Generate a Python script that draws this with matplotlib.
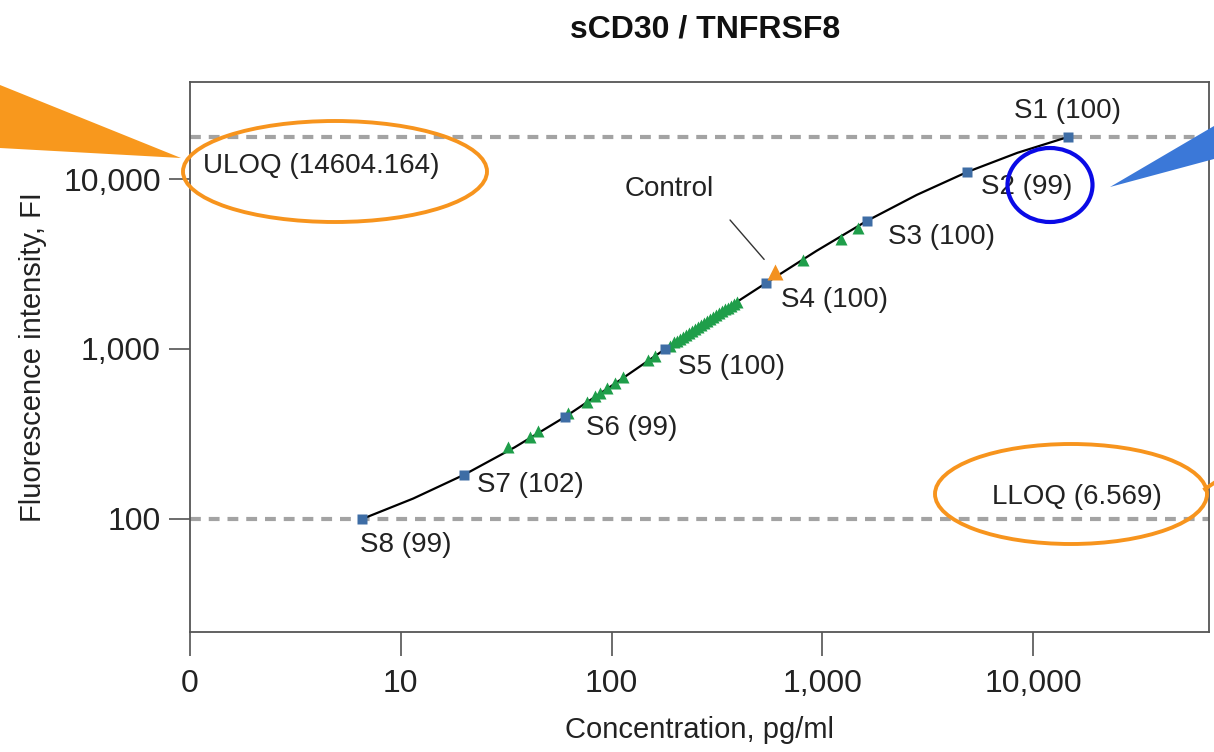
import matplotlib
matplotlib.use("Agg")
import matplotlib.pyplot as plt
from matplotlib.patches import Ellipse, Polygon
from matplotlib.lines import Line2D
from matplotlib.ticker import FixedLocator, FixedFormatter, NullLocator

plt.rcParams['font.family'] = ['Liberation Sans', 'DejaVu Sans']

# standards (S1..S8): concentration pg/ml, fluorescence intensity, recovery %
std_names = ['S1', 'S2', 'S3', 'S4', 'S5', 'S6', 'S7', 'S8']
std_recovery = [100, 99, 100, 100, 100, 99, 102, 99]
std_conc = [14604.164, 4868, 1623, 541, 180, 60.1, 20.0, 6.569]
std_fi = [17660, 11000, 5660, 2444, 1000, 398, 182, 100]

# fitted curve, points
curve_conc = [6.569, 11.46, 20.0, 34.67, 60.1, 104, 180, 312, 541, 937,
              1623, 2811, 4868, 8432, 14604.164]
curve_fi = [100, 131.8, 182, 263.6, 398, 626.6, 1000, 1571, 2444, 3772,
            5660, 8072, 11000, 14270, 17660]

# samples (green triangles)
sample_conc = [32.3, 41.0, 44.8, 62.2, 76.5, 83.5, 88.2, 95.2, 104, 113.5,
               149, 161, 190, 198, 205, 211, 218, 226, 233, 241, 249, 257,
               266, 275, 284, 293, 303, 313, 324, 334, 346, 357, 369, 381,
               394, 811, 1227, 1478]
sample_fi = [265, 303, 329, 420, 488, 529, 551, 590, 631, 684,
             861, 909, 1042, 1092, 1121, 1151, 1181, 1212, 1245, 1278, 1313, 1347,
             1382, 1420, 1457, 1497, 1537, 1576, 1620, 1662, 1708, 1752, 1798, 1848,
             1896, 3338, 4436, 5150]

control_conc = 597
control_fi = 2838

uloq = 14604.164
lloq = 6.569
uloq_fi = 17660
lloq_fi = 100

x_ticks = [1, 10, 100, 1000, 10000]
x_ticklabels = ['0', '10', '100', '1,000', '10,000']
y_ticks = [100, 1000, 10000]
y_ticklabels = ['100', '1,000', '10,000']

# label offsets in pixels (dx, dy) and alignment
label_offsets = [(0, 26, 'center'), (14, -15, 'left'), (21, -16, 'left'),
                 (15, -17, 'left'), (13, -18, 'left'), (21, -11, 'left'),
                 (13, -10, 'left'), (-2, -26, 'left')]

W, H = 1214, 752
fig = plt.figure(figsize=(W / 100, H / 100), dpi=100)
ax = fig.add_axes([190 / W, 1 - 632 / H, (1209 - 190) / W, (632 - 82) / H])

ax.set_xscale('log')
ax.set_yscale('log')
ax.set_xlim(1, 68400)
ax.set_ylim(21.6, 37250)

# ULOQ / LLOQ lines
for yv in [uloq_fi, lloq_fi]:
    ln = ax.axhline(yv, color='#a3a3a3', lw=3, zorder=1)
    ln.set_dashes([2.6, 1.9])

ax.plot(curve_conc, curve_fi, color='black', lw=1.6, zorder=2)
ax.plot(sample_conc, sample_fi, ls='none', marker='^', ms=8.5, color='#1f9e4a',
        mec='none', zorder=3)
ax.plot(std_conc, std_fi, ls='none', marker='s', ms=7.5, color='#3e6da5',
        mec='none', zorder=4)
ax.plot([control_conc], [control_fi], ls='none', marker='^', ms=11,
        color='#f39120', mec='none', zorder=5)

txt_color = '#222222'
for name, rec, xc, yc, (dx, dy, ha) in zip(std_names, std_recovery, std_conc, std_fi, label_offsets):
    ax.annotate(f'{name} ({rec})', xy=(xc, yc), xytext=(dx, dy),
                textcoords='offset pixels', ha=ha, va='center',
                fontsize=20, color=txt_color)

ax.annotate('Control', xy=(control_conc, control_fi), xytext=(-106, 83),
            textcoords='offset pixels', ha='center', va='center',
            fontsize=20, color=txt_color)
ax.annotate('', xy=(control_conc, control_fi), xytext=(-45, 52),
            textcoords='offset pixels',
            arrowprops=dict(arrowstyle='-', color='#333333', lw=1,
                            shrinkA=0, shrinkB=12))

ax.annotate(f'ULOQ ({uloq:.3f})', xy=(0, uloq_fi), xycoords=('axes fraction', 'data'),
            xytext=(13, -29), textcoords='offset pixels', ha='left', va='center',
            fontsize=20, color=txt_color)
ax.annotate(f'LLOQ ({lloq:.3f})', xy=(1, lloq_fi), xycoords=('axes fraction', 'data'),
            xytext=(-217, 22), textcoords='offset pixels', ha='left', va='center',
            fontsize=20, color=txt_color)

ax.xaxis.set_major_locator(FixedLocator(x_ticks))
ax.xaxis.set_major_formatter(FixedFormatter(x_ticklabels))
ax.xaxis.set_minor_locator(NullLocator())
ax.yaxis.set_major_locator(FixedLocator(y_ticks))
ax.yaxis.set_major_formatter(FixedFormatter(y_ticklabels))
ax.yaxis.set_minor_locator(NullLocator())

ax.tick_params(axis='x', direction='out', length=17, width=1.1, color='#444444',
               labelsize=23, labelcolor=txt_color, pad=10)
ax.tick_params(axis='y', direction='out', length=15, width=1.1, color='#444444',
               labelsize=23, labelcolor=txt_color, pad=6)
for sp in ax.spines.values():
    sp.set_color('#555555')
    sp.set_linewidth(1.3)

ax.set_xlabel('Concentration, pg/ml', fontsize=21, color=txt_color, labelpad=12)
ax.set_ylabel('Fluorescence intensity, FI', fontsize=21, color=txt_color, labelpad=12)
fig.text(705 / W, 1 - 30 / H, 'sCD30 / TNFRSF8', ha='center', va='center',
         fontsize=23, fontweight='bold', color='#111111')


# highlight overlays (pixel coords, y from top)
def fp(x, y):
    return (x / W, 1 - y / H)


fig.add_artist(Polygon([fp(0, 85), fp(181, 158), fp(0, 148)], closed=True,
                       fc='#f8981d', ec='none', transform=fig.transFigure))
fig.add_artist(Polygon([fp(1214, 126), fp(1110, 187), fp(1214, 159)], closed=True,
                       fc='#3b78d8', ec='none', transform=fig.transFigure))
fig.add_artist(Ellipse(fp(335, 171.5), 304 / W, 101 / H, fill=False,
                       ec='#f7941d', lw=2.8, transform=fig.transFigure))
fig.add_artist(Ellipse(fp(1071, 494), 272 / W, 100 / H, fill=False,
                       ec='#f7941d', lw=2.8, transform=fig.transFigure))
fig.add_artist(Line2D([1205 / W, 1214 / W], [1 - 489 / H, 1 - 483 / H],
                      color='#f7941d', lw=2.8, transform=fig.transFigure))
fig.add_artist(Ellipse(fp(1050, 185), 85 / W, 74 / H, fill=False,
                       ec='#0a0ae6', lw=3, transform=fig.transFigure))

fig.savefig('out.png', dpi=100)
